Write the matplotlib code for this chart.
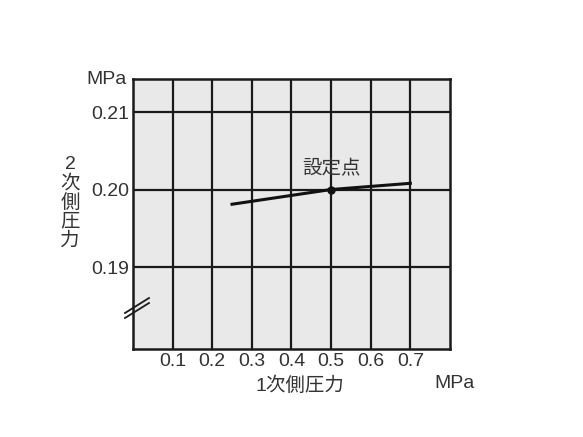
import matplotlib
matplotlib.use("Agg")
import matplotlib.pyplot as plt
from matplotlib.lines import Line2D

plt.rcParams['font.family'] = ['Liberation Sans', 'Noto Sans CJK JP', 'DejaVu Sans']

# Data
primary_pressure = [0.25, 0.5, 0.7]          # MPa
secondary_pressure = [0.1981, 0.2000, 0.2008]  # MPa
set_point = (0.5, 0.200)
x_ticks = [0.1, 0.2, 0.3, 0.4, 0.5, 0.6, 0.7]
x_tick_labels = ["0.1", "0.2", "0.3", "0.4", "0.5", "0.6", "0.7"]
y_ticks = [0.19, 0.20, 0.21]
y_tick_labels = ["0.19", "0.20", "0.21"]
x_label = "1次側圧力"
y_label_chars = ["2", "次", "側", "圧", "力"]
unit = "MPa"
set_point_label = "設定点"

txt = "#333333"
fs = 14

fig = plt.figure(figsize=(5.83, 4.37), dpi=100)
ax = fig.add_axes([0.2281, 0.2014, 0.5437, 0.6178])
ax.set_facecolor("#e9e9e9")
ax.set_xlim(0, 0.8)
ax.set_ylim(0.17942, 0.21426)

for x in x_ticks:
    ax.axvline(x, color="#1a1a1a", lw=1.6, zorder=1)
for y in y_ticks:
    ax.axhline(y, color="#1a1a1a", lw=1.6, zorder=1)
for s in ax.spines.values():
    s.set_linewidth(1.8)
    s.set_color("#1a1a1a")

ax.plot(primary_pressure, secondary_pressure, color="#111111", lw=2.2, zorder=3)
ax.plot([set_point[0]], [set_point[1]], "o", color="#111111", ms=5, zorder=4)
ax.annotate(set_point_label, xy=set_point, xytext=(0, 8), textcoords="offset points",
            ha="center", va="bottom", fontsize=fs, color=txt)

ax.set_xticks(x_ticks)
ax.set_xticklabels(x_tick_labels)
ax.set_yticks(y_ticks)
ax.set_yticklabels(y_tick_labels)
ax.tick_params(length=0, labelsize=fs, labelcolor=txt)
ax.tick_params(axis="x", pad=3)
ax.tick_params(axis="y", pad=3)

fig.text(300/583, 1-386/437, x_label, ha="center", va="center", fontsize=fs, color=txt)
fig.text(455/583, 1-384/437, unit, ha="center", va="center", fontsize=fs, color=txt)
fig.text(107/583, 1-80/437, unit, ha="center", va="center", fontsize=fs, color=txt)
fig.text(70/583, 1-203/437, "\n".join(y_label_chars), ha="center", va="center",
         fontsize=fs, color=txt, linespacing=1.12)

# axis break mark
for off in (0, 5):
    fig.add_artist(Line2D([125/583, 149/583], [1-(318-off)/437, 1-(303-off)/437],
                          color="#1a1a1a", lw=1.3))

fig.savefig("out.png", dpi=100, facecolor="white")
